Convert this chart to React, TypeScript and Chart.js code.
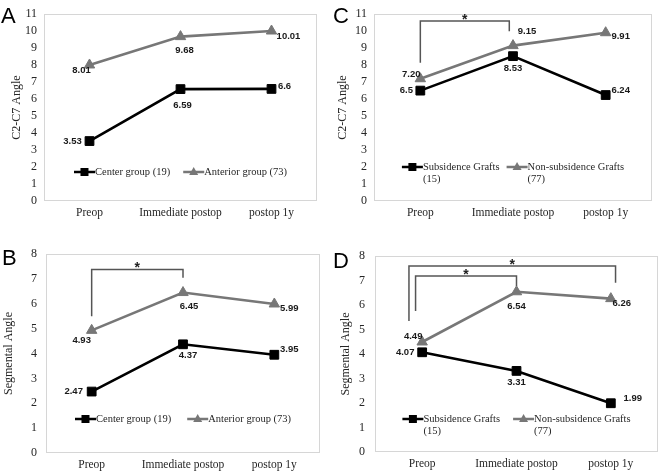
import React, { useEffect, useRef } from 'react';
import { Chart, registerables } from 'chart.js';

Chart.register(...registerables);

// ---------- data ----------
const timepoints = ['Preop', 'Immediate postop', 'postop 1y'];

const groupsAB = ['Center group', 'Anterior group'];
const countsAB = [19, 73];
const groupsCD = ['Subsidence Grafts', 'Non-subsidence Grafts'];
const countsCD = [15, 77];

const c2c7Center = ['3.53', '6.59', '6.6'];
const c2c7Anterior = ['8.01', '9.68', '10.01'];
const segCenter = ['2.47', '4.37', '3.95'];
const segAnterior = ['4.93', '6.45', '5.99'];
const c2c7Subsidence = ['6.5', '8.53', '6.24'];
const c2c7NonSubsidence = ['7.20', '9.15', '9.91'];
const segSubsidence = ['4.07', '3.31', '1.99'];
const segNonSubsidence = ['4.49', '6.54', '6.26'];

const c2c7AxisMax = 11;
const segAxisMax = 8;

// significance brackets (category index / axis values)
const bracketsB = [{ from: 0, to: 1, top: 7.38, fromEnd: 5.5, toEnd: 7.05 }];
const bracketsC = [{ from: 0, to: 0.96, top: 10.6, fromEnd: 8.14, toEnd: 10.0 }];
const bracketsD = [
  { from: -0.07, to: 1.0, top: 7.18, fromEnd: 5.76, toEnd: 6.78 },
  { from: -0.14, to: 2.05, top: 7.59, fromEnd: 5.35, toEnd: 6.91 },
];

// ---------- styles ----------
const BLACK = '#000000';
const GRAY = '#777777';
const TEXT = '#262626';
const SERIF = '"Liberation Serif", "Times New Roman", serif';
const SANS = '"Liberation Sans", Arial, sans-serif';

const seriesStyle = [
  { color: BLACK, pointStyle: 'rect', radius: 6.2 },
  { color: GRAY, pointStyle: 'triangle', radius: 6 },
];

type PanelCfg = {
  letter: string;
  letterPos: { x: number; y: number };
  left: number;
  top: number;
  width: number;
  height: number;
  yTitle: string;
  yMax: number;
  yAxisWidth: number;
  xAxisHeight: number;
  pad: { top: number; right: number };
  yTickPad: number;
  titlePad: number;
  names: string[];
  counts: number[];
  wrap: boolean;
  legendGap: number;
  legendFromBottom: number;
  series: string[][];
  labelOffsets: number[][][];
  brackets: { from: number; to: number; top: number; fromEnd: number; toEnd: number }[];
};

const panels: PanelCfg[] = [
  {
    letter: 'A', letterPos: { x: 1, y: 5 },
    left: 0, top: 0, width: 330, height: 236,
    yTitle: 'C2-C7 Angle', yMax: c2c7AxisMax,
    yAxisWidth: 44, xAxisHeight: 35, pad: { top: 5, right: 13 }, yTickPad: 7, titlePad: 10,
    names: groupsAB, counts: countsAB, wrap: false, legendGap: 13, legendFromBottom: 29,
    series: [c2c7Center, c2c7Anterior],
    labelOffsets: [
      [[-17, 0], [2, 16], [13, -3]],
      [[-8, 5], [4, 14], [17, 5]],
    ],
    brackets: [],
  },
  {
    letter: 'C', letterPos: { x: 333, y: 5 },
    left: 330, top: 0, width: 331, height: 236,
    yTitle: 'C2-C7 Angle', yMax: c2c7AxisMax,
    yAxisWidth: 44, xAxisHeight: 35, pad: { top: 5, right: 9 }, yTickPad: 7, titlePad: 6,
    names: groupsCD, counts: countsCD, wrap: true, legendGap: 7, legendFromBottom: 34,
    series: [c2c7Subsidence, c2c7NonSubsidence],
    labelOffsets: [
      [[-14, 0], [0, 12], [15, -5]],
      [[-9, -4], [14, -14], [15, 4]],
    ],
    brackets: bracketsC,
  },
  {
    letter: 'B', letterPos: { x: 2, y: 247 },
    left: 0, top: 236, width: 330, height: 237,
    yTitle: 'Segmental Angle', yMax: segAxisMax,
    yAxisWidth: 46, xAxisHeight: 20, pad: { top: 18, right: 10 }, yTickPad: 9, titlePad: 2,
    names: groupsAB, counts: countsAB, wrap: false, legendGap: 16, legendFromBottom: 34,
    series: [segCenter, segAnterior],
    labelOffsets: [
      [[-18, 0], [5, 11], [15, -5]],
      [[-10, 10], [6, 14], [15, 4]],
    ],
    brackets: bracketsB,
  },
  {
    letter: 'D', letterPos: { x: 333, y: 250 },
    left: 330, top: 236, width: 331, height: 237,
    yTitle: 'Segmental Angle', yMax: segAxisMax,
    yAxisWidth: 45, xAxisHeight: 21, pad: { top: 20, right: 3 }, yTickPad: 10, titlePad: 9,
    names: groupsCD, counts: countsCD, wrap: true, legendGap: 13, legendFromBottom: 33,
    series: [segSubsidence, segNonSubsidence],
    labelOffsets: [
      [[-17, 0], [0, 11], [22, -5]],
      [[-9, -6], [0, 15], [11, 5]],
    ],
    brackets: bracketsD,
  },
];

function drawMarker(ctx: CanvasRenderingContext2D, style: string, x: number, y: number, color: string) {
  ctx.fillStyle = color;
  ctx.beginPath();
  if (style === 'rect') {
    ctx.rect(x - 4, y - 4, 8, 8);
  } else {
    ctx.moveTo(x, y - 5);
    ctx.lineTo(x + 4.5, y + 3);
    ctx.lineTo(x - 4.5, y + 3);
    ctx.closePath();
  }
  ctx.fill();
}

function makePlugins(cfg: PanelCfg) {
  return [
    {
      id: 'plotBorder',
      beforeDatasetsDraw(chart: any) {
        const { ctx, chartArea: a } = chart;
        ctx.save();
        ctx.strokeStyle = '#d6d6d6';
        ctx.lineWidth = 1;
        ctx.strokeRect(Math.round(a.left) + 0.5, Math.round(a.top) + 0.5, Math.round(a.right - a.left) - 1, Math.round(a.bottom - a.top) - 1);
        ctx.restore();
      },
    },
    {
      id: 'valueLabels',
      afterDatasetsDraw(chart: any) {
        const { ctx } = chart;
        ctx.save();
        ctx.font = `bold 9.5px ${SANS}`;
        ctx.fillStyle = '#1a1a1a';
        ctx.textAlign = 'center';
        ctx.textBaseline = 'middle';
        chart.data.datasets.forEach((_ds: any, i: number) => {
          const meta = chart.getDatasetMeta(i);
          meta.data.forEach((el: any, j: number) => {
            const [dx, dy] = cfg.labelOffsets[i][j];
            ctx.fillText(cfg.series[i][j], el.x + dx, el.y + dy);
          });
        });
        ctx.restore();
      },
    },
    {
      id: 'brackets',
      afterDatasetsDraw(chart: any) {
        const { ctx } = chart;
        const xs = chart.scales.x;
        const ys = chart.scales.y;
        ctx.save();
        cfg.brackets.forEach((b) => {
          const x1 = xs.getPixelForValue(b.from);
          const x2 = xs.getPixelForValue(b.to);
          const yt = ys.getPixelForValue(b.top);
          const y1 = ys.getPixelForValue(b.fromEnd);
          const y2 = ys.getPixelForValue(b.toEnd);
          ctx.strokeStyle = '#555555';
          ctx.lineWidth = 1.5;
          ctx.beginPath();
          ctx.moveTo(x1, y1);
          ctx.lineTo(x1, yt);
          ctx.lineTo(x2, yt);
          ctx.lineTo(x2, y2);
          ctx.stroke();
          ctx.fillStyle = '#222222';
          ctx.font = `bold 14px ${SANS}`;
          ctx.textAlign = 'center';
          ctx.textBaseline = 'alphabetic';
          ctx.fillText('*', (x1 + x2) / 2, yt + 3);
        });
        ctx.restore();
      },
    },
    {
      id: 'innerLegend',
      afterDraw(chart: any) {
        const { ctx, chartArea: a } = chart;
        ctx.save();
        ctx.font = `10.5px ${SERIF}`;
        const sampleW = 21;
        const items = chart.data.datasets.map((_ds: any, i: number) => {
          const lines = cfg.wrap
            ? [cfg.names[i], `(${cfg.counts[i]})`]
            : [`${cfg.names[i]} (${cfg.counts[i]})`];
          const w = Math.max(...lines.map((l) => ctx.measureText(l).width));
          return { i, lines, w };
        });
        const total =
          items.reduce((s: number, it: any) => s + sampleW + it.w, 0) + cfg.legendGap * (items.length - 1);
        let x = (a.left + a.right) / 2 - total / 2;
        const y = a.bottom - cfg.legendFromBottom;
        items.forEach((it: any) => {
          const st = seriesStyle[it.i];
          ctx.strokeStyle = st.color;
          ctx.lineWidth = 2.5;
          ctx.beginPath();
          ctx.moveTo(x, y);
          ctx.lineTo(x + sampleW, y);
          ctx.stroke();
          drawMarker(ctx, st.pointStyle, x + sampleW / 2, y, st.color);
          ctx.fillStyle = TEXT;
          ctx.textAlign = 'left';
          ctx.textBaseline = 'middle';
          it.lines.forEach((l: string, k: number) => ctx.fillText(l, x + sampleW, y + k * 12));
          x += sampleW + it.w + cfg.legendGap;
        });
        ctx.restore();
      },
    },
  ];
}

function Panel({ cfg }: { cfg: PanelCfg }) {
  const ref = useRef<HTMLCanvasElement>(null);
  useEffect(() => {
    const canvas = ref.current;
    if (!canvas) return;
    const chart = new Chart(canvas, {
      type: 'line',
      data: {
        labels: timepoints,
        datasets: cfg.series.map((vals, i) => ({
          label: `${cfg.names[i]} (${cfg.counts[i]})`,
          data: vals.map(Number),
          borderColor: seriesStyle[i].color,
          backgroundColor: seriesStyle[i].color,
          pointBackgroundColor: seriesStyle[i].color,
          pointBorderColor: seriesStyle[i].color,
          pointBorderWidth: 1,
          pointStyle: seriesStyle[i].pointStyle as any,
          pointRadius: seriesStyle[i].radius,
          borderWidth: 2.6,
          tension: 0,
          fill: false,
        })),
      },
      options: {
        animation: false,
        responsive: false,
        devicePixelRatio: 1,
        layout: {
          padding: { left: 0, top: cfg.pad.top, right: cfg.pad.right, bottom: 0 },
          autoPadding: false,
        } as any,
        plugins: {
          legend: { display: false },
          tooltip: { enabled: false },
        },
        scales: {
          x: {
            type: 'category',
            offset: true,
            grid: { display: false, drawTicks: false },
            border: { display: false },
            ticks: {
              font: { family: SERIF, size: 11.5 },
              color: TEXT,
              padding: 5,
              maxRotation: 0,
              autoSkip: false,
            },
            afterFit: (s: any) => {
              s.height = cfg.xAxisHeight;
            },
          },
          y: {
            min: 0,
            max: cfg.yMax,
            grid: { display: false, drawTicks: false },
            border: { display: false },
            ticks: {
              stepSize: 1,
              autoSkip: false,
              font: { family: SERIF, size: 12 },
              color: TEXT,
              padding: cfg.yTickPad,
            },
            title: {
              display: true,
              text: cfg.yTitle,
              font: { family: SERIF, size: 12 },
              color: TEXT,
              padding: { top: cfg.titlePad, bottom: 0 },
            },
            afterFit: (s: any) => {
              s.width = cfg.yAxisWidth;
            },
          },
        },
      },
      plugins: makePlugins(cfg) as any,
    });
    return () => chart.destroy();
  }, [cfg]);
  return (
    <canvas
      ref={ref}
      width={cfg.width}
      height={cfg.height}
      style={{ position: 'absolute', left: cfg.left, top: cfg.top, width: cfg.width, height: cfg.height }}
    />
  );
}

export default function App() {
  return (
    <div
      style={{
        position: 'fixed',
        left: 0,
        top: 0,
        width: 661,
        height: 473,
        background: '#ffffff',
        overflow: 'hidden',
      }}
    >
      {panels.map((p) => (
        <Panel key={p.letter} cfg={p} />
      ))}
      {panels.map((p) => (
        <div
          key={'L' + p.letter}
          style={{
            position: 'absolute',
            left: p.letterPos.x,
            top: p.letterPos.y,
            fontFamily: SANS,
            fontSize: 22,
            lineHeight: 1,
            color: '#000',
            zIndex: 2,
          }}
        >
          {p.letter}
        </div>
      ))}
    </div>
  );
}
